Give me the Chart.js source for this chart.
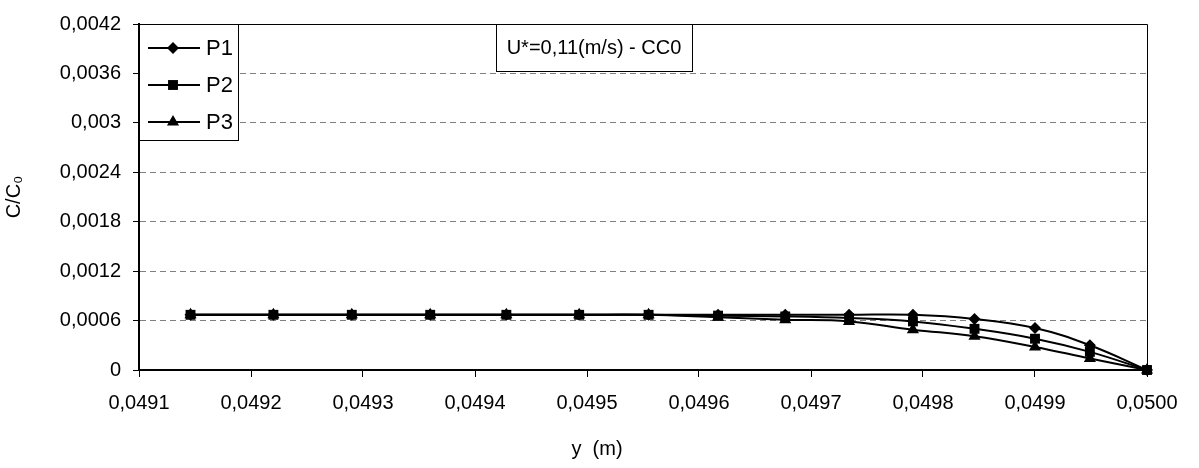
<!DOCTYPE html>
<html><head><meta charset="utf-8">
<script src="https://cdn.jsdelivr.net/npm/chart.js@4/dist/chart.umd.min.js"></script>
<style>html,body{margin:0;padding:0;background:#fff}#wrap{width:1199px;height:468px}</style>
</head><body><div id="wrap"><canvas id="c" width="1199" height="468"></canvas></div>
<script>
// ---- data ----
const yPositions = [0.049146, 0.04922, 0.04929, 0.04936, 0.049428, 0.049493, 0.049555, 0.049617, 0.049677, 0.049734, 0.049791, 0.049846, 0.049900, 0.049949, 0.0500];
const seriesP1 = [0.00067, 0.00067, 0.00067, 0.00067, 0.00067, 0.00067, 0.00067, 0.00067, 0.00067, 0.00067, 0.00067, 0.00062, 0.00051, 0.00030, 0];
const seriesP2 = [0.00067, 0.00067, 0.00067, 0.00067, 0.00067, 0.00067, 0.00067, 0.00066, 0.00065, 0.00063, 0.00059, 0.00050, 0.00038, 0.00022, 0];
const seriesP3 = [0.00067, 0.00067, 0.00067, 0.00067, 0.00067, 0.00067, 0.00067, 0.00064, 0.00061, 0.00059, 0.00049, 0.00041, 0.00028, 0.00014, 0];
const seriesNames = ['P1', 'P2', 'P3'];
const xTickValues = [0.0491, 0.0492, 0.0493, 0.0494, 0.0495, 0.0496, 0.0497, 0.0498, 0.0499, 0.0500];
const xTickLabels = ['0,0491', '0,0492', '0,0493', '0,0494', '0,0495', '0,0496', '0,0497', '0,0498', '0,0499', '0,0500'];
const yTickValues = [0, 0.0006, 0.0012, 0.0018, 0.0024, 0.003, 0.0036, 0.0042];
const yTickLabels = ['0', '0,0006', '0,0012', '0,0018', '0,0024', '0,003', '0,0036', '0,0042'];
const titleText = 'U*=0,11(m/s) - CC0';
const xTitle = 'y  (m)';
const yTitle = 'C/C\u2080';

const FONT = '"Liberation Sans", Arial, sans-serif';
const FS = 20;
const styles = ['rectRot', 'rect', 'triangle'];
const radii = [6, 7, 7];

const toPts = arr => arr.map((v, i) => ({x: yPositions[i], y: v}));
const allSeries = [seriesP1, seriesP2, seriesP3];

function marker(ctx, style, x, y, r) {
  ctx.beginPath();
  if (style === 'rectRot') {
    ctx.moveTo(x, y - r); ctx.lineTo(x + r, y); ctx.lineTo(x, y + r); ctx.lineTo(x - r, y);
  } else if (style === 'rect') {
    const s = r * Math.SQRT1_2;
    ctx.rect(x - s, y - s, 2 * s, 2 * s);
  } else {
    const h = r * Math.sin(Math.PI / 3);
    ctx.moveTo(x, y - r); ctx.lineTo(x + h, y + r / 2); ctx.lineTo(x - h, y + r / 2);
  }
  ctx.closePath(); ctx.fill();
}

const decor = {
  id: 'decor',
  afterDraw(chart) {
    const {ctx, chartArea: a} = chart;
    ctx.save();
    // plot border top/right
    ctx.strokeStyle = '#000'; ctx.lineWidth = 1;
    ctx.beginPath();
    ctx.moveTo(a.left, a.top + 0.5); ctx.lineTo(a.right + 0.5, a.top + 0.5); ctx.lineTo(a.right + 0.5, a.bottom);
    ctx.stroke();
    // legend box
    const lx = a.left, ly = a.top, lw = 99, lh = 116;
    ctx.fillStyle = '#fff'; ctx.fillRect(lx, ly, lw, lh);
    ctx.strokeRect(lx + 0.5, ly + 0.5, lw, lh);
    ctx.font = '22px ' + FONT; ctx.textBaseline = 'middle'; ctx.textAlign = 'left';
    seriesNames.forEach((n, i) => {
      const yy = ly + 24 + i * 37;
      ctx.strokeStyle = '#000'; ctx.lineWidth = 2;
      ctx.beginPath(); ctx.moveTo(lx + 9, yy); ctx.lineTo(lx + 61, yy); ctx.stroke();
      ctx.fillStyle = '#000';
      marker(ctx, styles[i], lx + 34, yy, radii[i]);
      ctx.fillText(n, lx + 67, yy + 1);
    });
    // title box
    ctx.lineWidth = 1;
    ctx.font = FS + 'px ' + FONT;
    const tx = 496, ty = a.top, tw = 196, th = 47;
    ctx.fillStyle = '#fff'; ctx.fillRect(tx, ty, tw, th);
    ctx.strokeStyle = '#000'; ctx.strokeRect(tx + 0.5, ty + 0.5, tw, th);
    ctx.fillStyle = '#000'; ctx.textAlign = 'center';
    ctx.fillText(titleText, tx + tw / 2, ty + th / 2 + 1);
    // x title
    ctx.fillText(xTitle, 597, 449);
    ctx.restore();
  }
};

new Chart(document.getElementById('c'), {
  type: 'line',
  data: {
    datasets: allSeries.map((s, i) => ({
      label: seriesNames[i],
      data: toPts(s),
      borderColor: '#000', backgroundColor: '#000',
      borderWidth: 2, tension: 0.4, clip: false,
      pointStyle: styles[i], pointRadius: radii[i],
      pointBackgroundColor: '#000', pointBorderColor: '#000', pointBorderWidth: 0,
      fill: false
    }))
  },
  options: {
    responsive: false, animation: false, devicePixelRatio: 1,
    layout: {padding: {top: 19, right: 52, left: 0, bottom: 0}},
    plugins: {legend: {display: false}, tooltip: {enabled: false}},
    scales: {
      x: {
        type: 'linear', min: 0.0491, max: 0.0500,
        afterBuildTicks: s => { s.ticks = xTickValues.map(v => ({value: v})); },
        afterFit: s => { s.height = 98; },
        ticks: {callback: (v, i) => xTickLabels[i], color: '#000', font: {family: FONT, size: FS}, padding: 14, maxRotation: 0, autoSkip: false},
        grid: {drawOnChartArea: false, tickLength: 7, tickColor: '#000', tickWidth: 1},
        border: {color: '#000', width: 2}
      },
      y: {
        min: 0, max: 0.0042,
        afterBuildTicks: s => { s.ticks = yTickValues.map(v => ({value: v})); },
        afterFit: s => { s.width = 139; },
        ticks: {callback: (v, i) => yTickLabels[i], color: '#000', font: {family: FONT, size: FS}, padding: 12},
        grid: {color: '#808080', lineWidth: 1, tickLength: 6, tickColor: '#000', tickWidth: 1, tickBorderDash: []},
        border: {color: '#000', width: 2, dash: [6, 4]},
        title: {display: true, text: yTitle, color: '#000', font: {family: FONT, size: FS}, padding: {top: 2, bottom: 0}}
      }
    }
  },
  plugins: [decor]
});
</script>
</body></html>
